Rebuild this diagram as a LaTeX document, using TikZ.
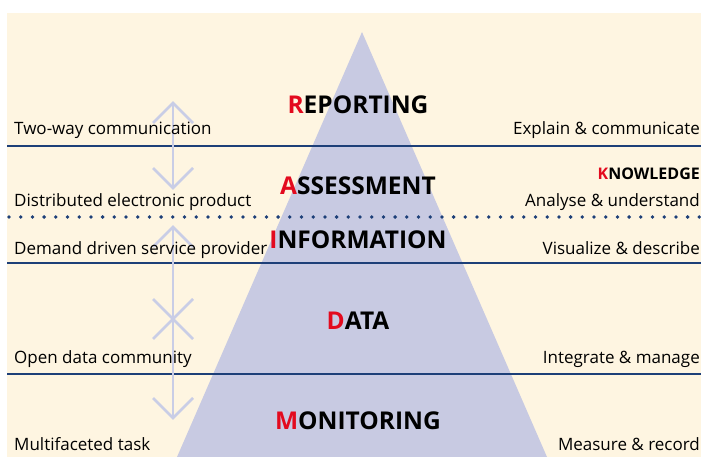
\documentclass[tikz,border=0pt]{standalone}
\usepackage{fontspec}
\setmainfont{Open Sans}
\definecolor{cream}{HTML}{FEF5E1}
\definecolor{pyr}{HTML}{C8CAE2}
\definecolor{navy}{HTML}{1D3F78}
\definecolor{accent}{HTML}{E30A1E}
\definecolor{arrowc}{HTML}{C9CDE6}
\begin{document}
\begin{tikzpicture}[x=1pt,y=-1pt,
  lbl/.style={font=\fontsize{17}{20}\selectfont, text=black, inner sep=0pt},
  lleft/.style={lbl, anchor=base west},
  lright/.style={lbl, anchor=base east},
  ttl/.style={font=\fontsize{24.5}{28}\selectfont\bfseries, text=black, inner sep=0pt, anchor=base},
  sepline/.style={navy, line width=2.2pt},
  dotline/.style={navy, line width=3.8pt, line cap=round, dash pattern=on 0pt off 11.7pt},
  arr/.style={arrowc, line width=2.8pt, line join=miter}]
\useasboundingbox (0,0) rectangle (701,457);
\fill[cream] (7,13) rectangle (701,457);
\fill[pyr] (362,32) -- (547,457) -- (177,457) -- cycle;
% separators
\draw[sepline] (7,146) -- (701,146);
\draw[dotline] (9,217) -- (701,217);
\draw[sepline] (7,263) -- (701,263);
\draw[sepline] (7,374) -- (701,374);
% arrows
\coordinate (a1t) at (173,103); \coordinate (a1b) at (173,188);
\coordinate (a2t) at (173,227); \coordinate (a2b) at (173,319);
\coordinate (a3t) at (173,319); \coordinate (a3b) at (173,418);
\foreach \t/\b in {a1t/a1b, a2t/a2b, a3t/a3b}{
  \draw[arr] (\t) -- (\b);
  \draw[arr] ([shift={(-20,20)}]\t) -- (\t) -- ([shift={(20,20)}]\t);
  \draw[arr] ([shift={(-20,-20)}]\b) -- (\b) -- ([shift={(20,-20)}]\b);
}
% titles
\node[ttl] (rep) at (358,114) {\textcolor{accent}{R}EPORTING};
\node[ttl] (ass) at (358,194) {\textcolor{accent}{A}SSESSMENT};
\node[ttl] (inf) at (358,248) {\textcolor{accent}{I}NFORMATION};
\node[ttl] (dat) at (358,329) {\textcolor{accent}{D}ATA};
\node[ttl] (mon) at (358,429) {\textcolor{accent}{M}ONITORING};
\node[font=\fontsize{16}{18}\selectfont\bfseries, inner sep=0pt, anchor=base east] (know) at (700,179) {\textcolor{accent}{K}NOWLEDGE};
% left labels
\node[lleft] (l1) at (14,135) {Two-way communication};
\node[lleft] (l2) at (14,207) {Distributed electronic product};
\node[lleft] (l3) at (14,254) {Demand driven service provider};
\node[lleft] (l4) at (14,363) {Open data community};
\node[lleft] (l5) at (14,450) {Multifaceted task};
% right labels
\node[lright] (r1) at (700,135) {Explain \& communicate};
\node[lright] (r2) at (700,207) {Analyse \& understand};
\node[lright] (r3) at (700,254) {Visualize \& describe};
\node[lright] (r4) at (700,363) {Integrate \& manage};
\node[lright] (r5) at (700,450) {Measure \& record};
\end{tikzpicture}
\end{document}
